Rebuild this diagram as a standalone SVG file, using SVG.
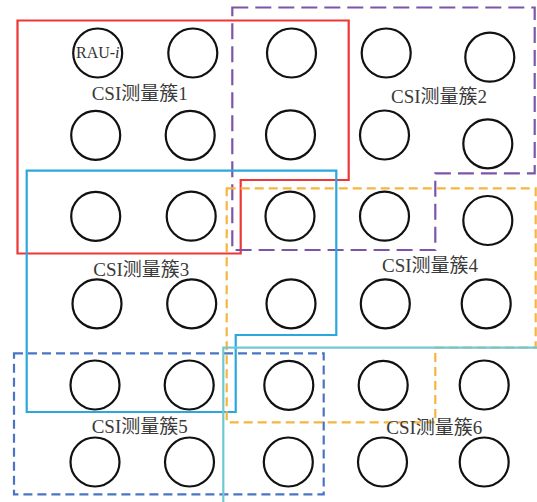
<svg xmlns="http://www.w3.org/2000/svg" width="537" height="502" viewBox="0 0 537 502">
<style>
.n{fill:none;stroke:#111;stroke-width:2.2}
.c{fill:none;stroke-width:2.2}
.lbl{font-family:"Liberation Serif","Noto Sans CJK SC",serif;font-size:19px;fill:#3a3a3a}
.rau{font-family:"Liberation Serif",serif;font-size:16px;fill:#333}
</style>
<rect width="537" height="502" fill="#fff"/>
<g id="clusters">
<path id="cl1" class="c" stroke="#EE3636" d="M17.5 20.5H348.7V180H240.7V253.5H17.5Z"/>
<path id="cl2" class="c" stroke="#7D55A8" stroke-dasharray="16 7" d="M232.3 7.5H534.7V173.3H435.3V250H232.3Z"/>
<path id="cl3" class="c" stroke="#2AA7DE" d="M26.7 170.7H336.3V335H235.7V412H26.7Z"/>
<path id="cl4" class="c" stroke="#F6B53E" stroke-dasharray="9 5" d="M226.7 188.3H535.7V347.7H435.3V422.3H226.7Z"/>
<path id="cl5" class="c" stroke="#4A74C4" stroke-dasharray="9 5" d="M14 353.3H323.7V494.3H14Z"/>
<path id="cl6" class="c" stroke="#72C8D2" d="M223.3 503V347.7H538"/>
</g>
<g id="nodes">
<g id="n11"><circle class="n" cx="97.7" cy="53" r="24.5"/><text class="rau" x="76" y="58.3">RAU-<tspan font-style="italic">i</tspan></text></g>
<g id="n12"><circle class="n" cx="192.8" cy="53" r="24.5"/></g>
<g id="n13"><circle class="n" cx="291.5" cy="53" r="24.5"/></g>
<g id="n14"><circle class="n" cx="386.2" cy="53" r="24.5"/></g>
<g id="n15"><circle class="n" cx="489.8" cy="57.2" r="24.5"/></g>
<g id="n21"><circle class="n" cx="95.7" cy="135.3" r="24.5"/></g>
<g id="n22"><circle class="n" cx="190.2" cy="135.3" r="24.5"/></g>
<g id="n23"><circle class="n" cx="290.5" cy="134.8" r="24.5"/></g>
<g id="n24"><circle class="n" cx="384.5" cy="135" r="24.5"/></g>
<g id="n25"><circle class="n" cx="487.8" cy="143.8" r="24.5"/></g>
<g id="n31"><circle class="n" cx="95.7" cy="216.3" r="24.5"/></g>
<g id="n32"><circle class="n" cx="191.2" cy="216.2" r="24.5"/></g>
<g id="n33"><circle class="n" cx="290" cy="216.2" r="24.5"/></g>
<g id="n34"><circle class="n" cx="384.5" cy="216.2" r="24.5"/></g>
<g id="n35"><circle class="n" cx="487.8" cy="220.5" r="24.5"/></g>
<g id="n41"><circle class="n" cx="97" cy="303.8" r="24.5"/></g>
<g id="n42"><circle class="n" cx="191.7" cy="303.8" r="24.5"/></g>
<g id="n43"><circle class="n" cx="291" cy="303.8" r="24.5"/></g>
<g id="n44"><circle class="n" cx="385.3" cy="303.8" r="24.5"/></g>
<g id="n45"><circle class="n" cx="486.2" cy="303.8" r="24.5"/></g>
<g id="n51"><circle class="n" cx="95" cy="385" r="24.5"/></g>
<g id="n52"><circle class="n" cx="189.2" cy="385" r="24.5"/></g>
<g id="n53"><circle class="n" cx="288.8" cy="385.3" r="24.5"/></g>
<g id="n54"><circle class="n" cx="383.2" cy="385.3" r="24.5"/></g>
<g id="n55"><circle class="n" cx="484.2" cy="385" r="24.5"/></g>
<g id="n61"><circle class="n" cx="95" cy="462" r="24.5"/></g>
<g id="n62"><circle class="n" cx="189.5" cy="462" r="24.5"/></g>
<g id="n63"><circle class="n" cx="288.3" cy="462" r="24.5"/></g>
<g id="n64"><circle class="n" cx="382.5" cy="462" r="24.5"/></g>
<g id="n65"><circle class="n" cx="484.2" cy="462" r="24.5"/></g>
</g>
<g id="labels">
<text class="lbl" x="91.7" y="100">CSI测量簇1</text>
<text class="lbl" x="391" y="103">CSI测量簇2</text>
<text class="lbl" x="93.3" y="276">CSI测量簇3</text>
<text class="lbl" x="382" y="272">CSI测量簇4</text>
<text class="lbl" x="91.7" y="433">CSI测量簇5</text>
<text class="lbl" x="386.3" y="434">CSI测量簇6</text>
</g>
</svg>
